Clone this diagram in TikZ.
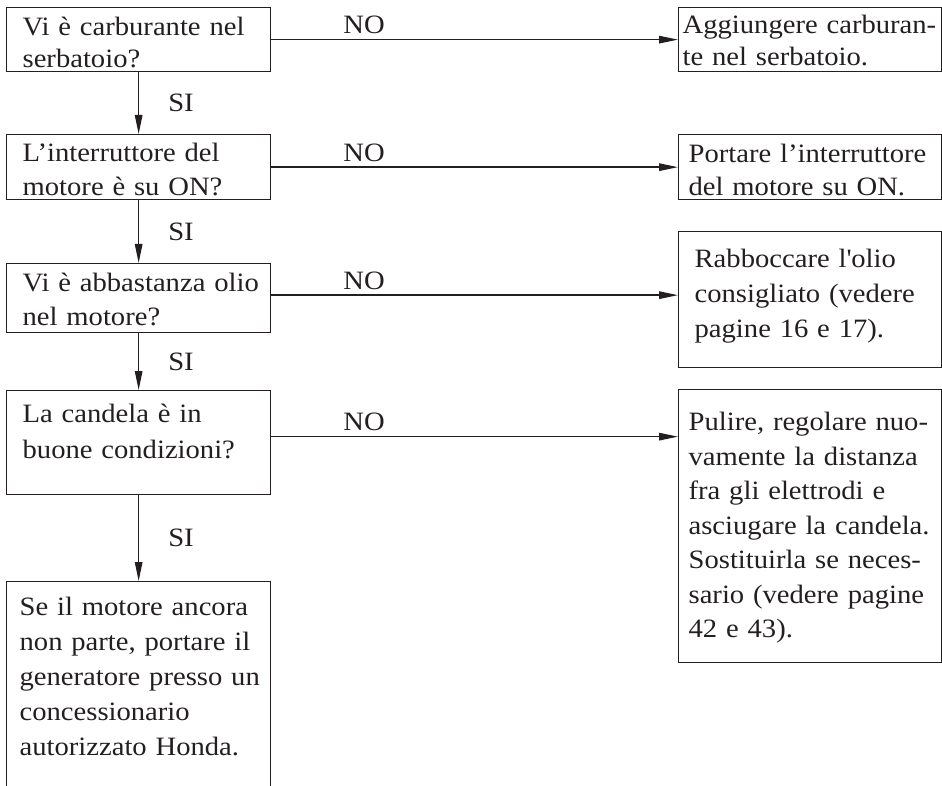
\documentclass[tikz,border=0pt]{standalone}
\usepackage{fontspec}
\setmainfont{Liberation Serif}[FakeStretch=1.08]
\usepackage{tikz}
\usetikzlibrary{arrows.meta}
\definecolor{ink}{RGB}{35,31,32}

\tikzset{
  ask/.style={draw=ink, line width=1.3pt, rectangle, anchor=north west,
    inner xsep=0pt, inner ysep=0pt, text width=#1, align=left, text=ink},
  ask/.default=264pt,
  pad/.style={execute at begin node={\leftskip=#1}},
  lines/.style={font=\fontsize{26.5pt}{#1}\selectfont},
  flow/.style={draw=ink, line width=1.3pt, -{Triangle[length=19pt,width=7.5pt]}},
  yes/.style={right=27pt, inner sep=2pt, text=ink, font=\fontsize{26.5pt}{32pt}\selectfont},
  no/.style={above=3pt, inner sep=2pt, text=ink, font=\fontsize{26.5pt}{32pt}\selectfont},
}

\begin{document}
\begin{tikzpicture}[x=1pt,y=-1pt]
\useasboundingbox (0,0) rectangle (942,786);

% questions (left column)
\node[ask, pad=16pt, lines=32pt, text height=28pt, text depth=36pt] (q1) at (6,7)
  {Vi è carburante nel\\serbatoio?};
\node[ask, pad=16pt, lines=34pt, text height=27pt, text depth=38pt] (q2) at (6,134)
  {L’interruttore del\\motore è su ON?};
\node[ask, pad=16pt, lines=34pt, text height=28pt, text depth=41pt] (q3) at (6,263)
  {Vi è abbastanza olio\\nel motore?};
\node[ask, pad=16pt, lines=36pt, text height=32pt, text depth=72pt] (q4) at (6,390)
  {La candela è in\\buone condizioni?};
\node[ask, pad=13pt, lines=35pt, text height=34pt, text depth=240pt] (q5) at (6,581)
  {Se il motore ancora\\non parte, portare il\\generatore presso un\\concessionario\\autorizzato Honda.};

% remedies (right column)
\node[ask=263pt, pad=4pt, lines=32pt, text height=26pt, text depth=38pt] (a1) at (678,7)
  {Aggiungere carburan-\\te nel serbatoio.};
\node[ask=263pt, pad=10pt, lines=33pt, text height=28pt, text depth=37pt] (a2) at (678,134)
  {Portare l’interruttore\\del motore su ON.};
\node[ask=263pt, pad=16pt, lines=35pt, text height=36pt, text depth=100pt] (a3) at (678,231)
  {Rabboccare l\textquotesingle olio\\consigliato (vedere\\pagine 16 e 17).};
\node[ask=263pt, pad=10pt, lines=34.5pt, text height=41pt, text depth=232pt] (a4) at (678,389)
  {Pulire, regolare nuo-\\vamente la distanza\\fra gli elettrodi e\\asciugare la candela.\\Sostituirla se neces-\\sario (vedere pagine\\42 e 43).};

% SI branches
\draw[flow] (q1.south) -- node[yes] {SI} (q2.north);
\draw[flow] (q2.south) -- node[yes] {SI} (q3.north);
\draw[flow] (q3.south) -- node[yes] {SI} (q4.north);
\draw[flow] (q4.south) -- node[yes] {SI} (q5.north);

% NO branches
\draw[flow] (q1.east) -- node[no, pos=0.228] {NO} (a1.west);
\draw[flow] (q2.east) -- node[no, pos=0.228] {NO} (a2.west);
\draw[flow] ([yshift=3pt]q3.east) -- node[no, pos=0.228] {NO} ([yshift=3pt]q3.east -| a3.west);
\draw[flow] ([yshift=6pt]q4.east) -- node[no, pos=0.228] {NO} ([yshift=6pt]q4.east -| a4.west);
\end{tikzpicture}
\end{document}
